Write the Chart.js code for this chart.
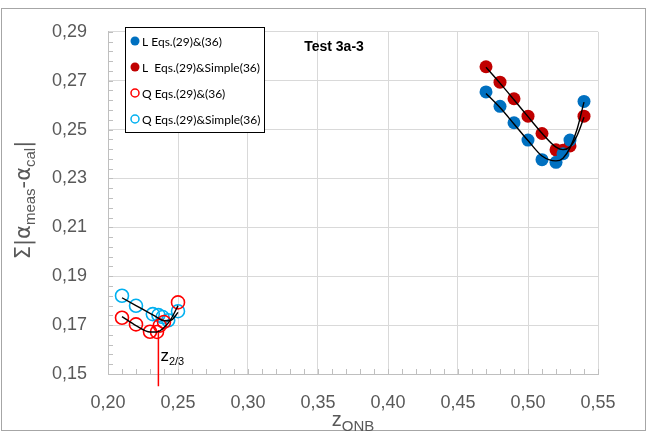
<!DOCTYPE html>
<html><head><meta charset="utf-8">
<script src="https://cdn.jsdelivr.net/npm/chart.js@4.4.0/dist/chart.umd.min.js"></script>
<style>html,body{margin:0;padding:0;background:#fff}</style>
</head><body>
<canvas id="c" width="662" height="437"></canvas>
<script>
// ---------- data ----------
const zL = [0.47, 0.48, 0.49, 0.50, 0.51, 0.52, 0.525, 0.53, 0.54];
const lEqs = [0.2654, 0.2595, 0.2528, 0.2457, 0.2377, 0.2366, 0.2401, 0.2457, 0.2615];
const lSimple = [0.2757, 0.2694, 0.2626, 0.2555, 0.2484, 0.2417, 0.2415, 0.2433, 0.2555];

const zQ = [0.21, 0.22, 0.23, 0.235, 0.237, 0.24, 0.25];
const qEqs = [0.1730, 0.1703, 0.1673, 0.1672, 0.1698, 0.1713, 0.1793];
const zQS = [0.21, 0.22, 0.232, 0.236, 0.239, 0.243, 0.25];
const qSimple = [0.1820, 0.1779, 0.1745, 0.1741, 0.1733, 0.1720, 0.1757];

// trend lines
const zTrendL = [0.47, 0.48, 0.49, 0.50, 0.51, 0.52, 0.525, 0.53, 0.535, 0.54];
const trendLEqs = [0.2648, 0.2590, 0.2523, 0.2455, 0.2392, 0.2372, 0.2383, 0.2425, 0.2500, 0.2612];
const trendLSimple = [0.2755, 0.2690, 0.2622, 0.2553, 0.2485, 0.2428, 0.2418, 0.2430, 0.2475, 0.2550];
const zTrendQ = [0.21, 0.22, 0.23, 0.235, 0.24, 0.245, 0.25];
const trendQEqs = [0.1735, 0.1698, 0.1672, 0.1672, 0.1690, 0.1725, 0.1780];
const trendQSimple = [0.1812, 0.1780, 0.1748, 0.1732, 0.1718, 0.1720, 0.1752];

const zTwoThirds = 0.236;
const zLineY = [0.168, 0.145];

const xTickValues = [0.20, 0.25, 0.30, 0.35, 0.40, 0.45, 0.50, 0.55];
const yTickValues = [0.15, 0.17, 0.19, 0.21, 0.23, 0.25, 0.27, 0.29];

const seriesNames = ['L Eqs.(29)&(36)', 'L  Eqs.(29)&Simple(36)', 'Q Eqs.(29)&(36)', 'Q Eqs.(29)&Simple(36)'];
const chartTitle = 'Test 3a-3';

// ---------- helpers ----------
const pts = (xs, ys) => xs.map((x, i) => ({x, y: ys[i]}));
const fmt = v => v.toFixed(2).replace('.', ',');

const BLUE = '#0070C0', DRED = '#C00000', RED = '#FF0000', CYAN = '#00B0F0';

function markerDs(label, xs, ys, color, filled) {
  return {
    label, data: pts(xs, ys), showLine: false, order: 2,
    pointRadius: 6.5, pointHoverRadius: 6.5,
    pointBackgroundColor: filled ? color : 'rgba(0,0,0,0)',
    pointBorderColor: color, pointBorderWidth: filled ? 0 : 1.6
  };
}
function trendDs(xs, ys) {
  return {
    label: '_trend', data: pts(xs, ys), showLine: true, order: 0,
    borderColor: '#000', borderWidth: 1.4, pointRadius: 0, tension: 0.4,
    cubicInterpolationMode: 'monotone', fill: false
  };
}

const plotPlugin = {
  id: 'decor',
  beforeDraw(chart) {
    const ctx = chart.ctx;
    ctx.save();
    ctx.strokeStyle = '#A6A6A6'; ctx.lineWidth = 1;
    ctx.strokeRect(1.5, 8.5, 644, 422);
    ctx.restore();
  },
  afterDraw(chart) {
    const ctx = chart.ctx, xs = chart.scales.x, ys = chart.scales.y;
    const ca = chart.chartArea;
    ctx.save();
    // inside minor ticks
    ctx.strokeStyle = '#BFBFBF'; ctx.lineWidth = 1;
    ctx.beginPath();
    for (let i = 0; i <= 35; i++) {
      const v = 0.20 + i * 0.01;
      const px = Math.round(xs.getPixelForValue(v)) + 0.5;
      ctx.moveTo(px, ca.bottom); ctx.lineTo(px, ca.bottom - 5);
    }
    for (let i = 0; i <= 35; i++) {
      const v = 0.15 + i * 0.004;
      const py = Math.round(ys.getPixelForValue(v)) + 0.5;
      ctx.moveTo(ca.left, py); ctx.lineTo(ca.left + 5, py);
    }
    ctx.stroke();

    // title
    ctx.fillStyle = '#000';
    ctx.font = 'bold 14px "Liberation Sans", Arial, sans-serif';
    ctx.textAlign = 'center'; ctx.textBaseline = 'middle';
    ctx.fillText(chartTitle, 334, 47);

    // legend box
    ctx.fillStyle = '#fff';
    ctx.fillRect(125, 27, 140, 106);
    ctx.strokeStyle = '#000'; ctx.lineWidth = 1;
    ctx.strokeRect(125.5, 27.5, 139, 105);
    const legColors = [[BLUE, true], [DRED, true], [RED, false], [CYAN, false]];
    const legY = [41, 67, 93, 119];
    ctx.font = '12px Lato, "Liberation Sans", sans-serif';
    ctx.textAlign = 'left'; ctx.textBaseline = 'middle';
    legColors.forEach(([c, f], i) => {
      ctx.beginPath();
      ctx.arc(135, legY[i], f ? 4.5 : 4, 0, Math.PI * 2);
      if (f) { ctx.fillStyle = c; ctx.fill(); }
      else { ctx.strokeStyle = c; ctx.lineWidth = 1.5; ctx.stroke(); }
      ctx.fillStyle = '#000';
      ctx.fillText(seriesNames[i], 142, legY[i] + 1);
    });

    // z2/3 label
    const lx = xs.getPixelForValue(zTwoThirds) + 2;
    const ly = ys.getPixelForValue(0.1555);
    ctx.fillStyle = '#000';
    ctx.textBaseline = 'alphabetic';
    ctx.font = '17px "Liberation Sans", Arial, sans-serif';
    ctx.fillText('z', lx, ly);
    const zw = ctx.measureText('z').width;
    ctx.font = '11px "Liberation Sans", Arial, sans-serif';
    ctx.fillText('2/3', lx + zw, ly + 4);

    // x-axis title z_ONB
    ctx.fillStyle = '#595959';
    ctx.font = '20px "Liberation Sans", Arial, sans-serif';
    const w1 = ctx.measureText('z').width;
    ctx.font = '15px "Liberation Sans", Arial, sans-serif';
    const w2 = ctx.measureText('ONB').width;
    const cx = (ca.left + ca.right) / 2;
    let sx = cx - (w1 + w2) / 2;
    ctx.font = '20px "Liberation Sans", Arial, sans-serif';
    ctx.fillText('z', sx, 426);
    ctx.font = '15px "Liberation Sans", Arial, sans-serif';
    ctx.fillText('ONB', sx + w1, 431);

    // y-axis title
    const parts = [['Σ|α', 0], ['meas', 1], ['-α', 0], ['cal', 1], ['|', 0]];
    const big = '21px "DejaVu Sans", "Liberation Sans", sans-serif';
    const small = '15px "Liberation Sans", Arial, sans-serif';
    let total = 0;
    parts.forEach(([t, s]) => { ctx.font = s ? small : big; total += ctx.measureText(t).width; });
    ctx.translate(30, 200);
    ctx.rotate(-Math.PI / 2);
    let px = -total / 2;
    parts.forEach(([t, s]) => {
      ctx.font = s ? small : big;
      ctx.fillText(t, px, s ? 5 : 0);
      px += ctx.measureText(t).width;
    });
    ctx.restore();
  }
};

new Chart(document.getElementById('c'), {
  type: 'scatter',
  data: {
    datasets: [
      trendDs(zTrendL, trendLEqs),
      trendDs(zTrendL, trendLSimple),
      trendDs(zTrendQ, trendQEqs),
      trendDs(zTrendQ, trendQSimple),
      {
        label: '_z23', data: zLineY.map(y => ({x: zTwoThirds, y})), showLine: true,
        borderColor: RED, borderWidth: 1.5, pointRadius: 0, clip: false, order: 1
      },
      markerDs(seriesNames[0], zL, lEqs, BLUE, true),
      markerDs(seriesNames[1], zL, lSimple, DRED, true),
      markerDs(seriesNames[2], zQ, qEqs, RED, false),
      markerDs(seriesNames[3], zQS, qSimple, CYAN, false)
    ]
  },
  options: {
    responsive: false, animation: false, devicePixelRatio: 1,
    layout: { padding: { left: 0, top: 21, right: 64, bottom: 0 } },
    plugins: { legend: { display: false }, tooltip: { enabled: false }, title: { display: false } },
    scales: {
      x: {
        type: 'linear', min: 0.20, max: 0.55,
        afterBuildTicks: s => { s.ticks = xTickValues.map(v => ({value: v})); },
        afterFit: s => { s.height = 63; },
        ticks: { callback: v => fmt(v), color: '#595959', padding: 18, maxRotation: 0,
                 font: { family: '"Liberation Sans", Arial, sans-serif', size: 18 } },
        grid: { color: '#D9D9D9', drawTicks: false },
        border: { color: '#BFBFBF' }
      },
      y: {
        type: 'linear', min: 0.15, max: 0.29,
        afterBuildTicks: s => { s.ticks = yTickValues.map(v => ({value: v})); },
        afterFit: s => { s.width = 108; },
        ticks: { callback: v => fmt(v), color: '#595959', padding: 21,
                 font: { family: '"Liberation Sans", Arial, sans-serif', size: 18 } },
        grid: { color: '#D9D9D9', drawTicks: false },
        border: { color: '#BFBFBF' }
      }
    }
  },
  plugins: [plotPlugin]
});
</script>
</body></html>
